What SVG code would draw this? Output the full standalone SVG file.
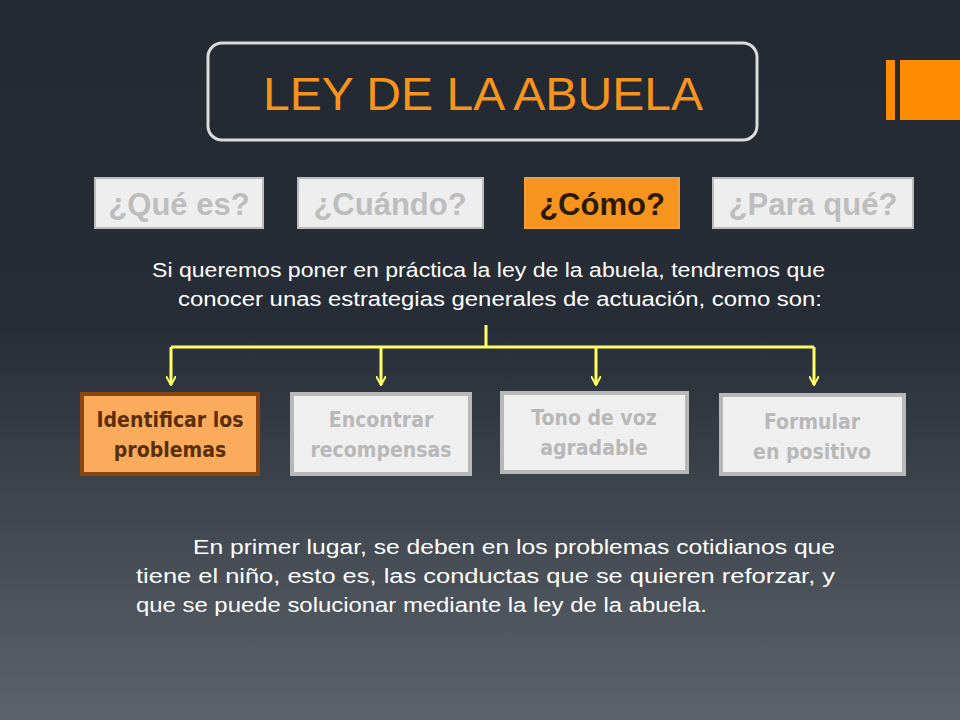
<svg xmlns="http://www.w3.org/2000/svg" width="960" height="720" viewBox="0 0 960 720">
<defs>
<linearGradient id="bg" x1="0" y1="0" x2="0" y2="1">
<stop offset="0" stop-color="#232a33"/><stop offset="0.45" stop-color="#262d36"/><stop offset="1" stop-color="#5c636b"/>
</linearGradient>
<marker id="ah" viewBox="0 0 10 10" refX="9" refY="5" markerWidth="10" markerHeight="10" markerUnits="userSpaceOnUse" orient="auto">
<path d="M0,0 L9,5 L0,10" fill="none" stroke="#ffff66" stroke-width="2"/>
</marker>
<style>
.tab{fill:#eeeeee;stroke:#bcbcbc;stroke-width:2}
.tabt{font-family:"Liberation Sans",Arial,sans-serif;font-size:31px;font-weight:bold;fill:#bdbdbd;text-anchor:middle}
.box{fill:#efefef;stroke:#b8b8b8;stroke-width:4}
.boxt{font-family:"DejaVu Sans Condensed","Liberation Sans",sans-serif;font-weight:bold;font-size:21px;fill:#b8b8b8;text-anchor:middle}
.body{font-family:"Liberation Sans",Arial,sans-serif;font-size:20px;fill:#ffffff}
.con{fill:none;stroke:#ffff66;stroke-width:3}
</style>
</defs>
<rect width="960" height="720" fill="url(#bg)"/>
<g id="title">
<rect x="208" y="43" width="549" height="97" rx="14" fill="#232a33" stroke="#dcdcdc" stroke-width="3"/>
<text x="263" y="110" textLength="440" lengthAdjust="spacingAndGlyphs" font-family="Liberation Sans,Arial,sans-serif" font-size="47" fill="#f7941d">LEY DE LA ABUELA</text>
</g>
<g id="deco"><rect x="886" y="60" width="9" height="60" fill="#ff8c00"/><rect x="900" y="60" width="60" height="60" fill="#ff8c00"/></g>
<g id="tab1"><rect class="tab" x="95" y="178" width="168" height="50"/><text class="tabt" x="179" y="215">¿Qué es?</text></g>
<g id="tab2"><rect class="tab" x="298" y="178" width="185" height="50"/><text class="tabt" x="390" y="215">¿Cuándo?</text></g>
<g id="tab3"><rect x="525" y="178" width="154" height="50" fill="#f7941d" stroke="#f0a040" stroke-width="2"/><text class="tabt" x="602" y="215" style="fill:#2a1a08">¿Cómo?</text></g>
<g id="tab4"><rect class="tab" x="713" y="178" width="200" height="50"/><text class="tabt" x="813" y="215">¿Para qué?</text></g>
<g id="intro">
<text class="body" x="152" y="277" textLength="673" lengthAdjust="spacingAndGlyphs">Si queremos poner en práctica la ley de la abuela, tendremos que</text>
<text class="body" x="178" y="306" textLength="644" lengthAdjust="spacingAndGlyphs">conocer unas estrategias generales de actuación, como son:</text>
</g>
<g id="connectors">
<path class="con" d="M486,325 V347"/>
<path class="con" d="M171,347 H814"/>
<path class="con" d="M171,347 V385" marker-end="url(#ah)"/>
<path class="con" d="M381,347 V385" marker-end="url(#ah)"/>
<path class="con" d="M596,347 V385" marker-end="url(#ah)"/>
<path class="con" d="M814,347 V385" marker-end="url(#ah)"/>
</g>
<g id="n1"><rect x="82" y="394" width="176" height="80" fill="#fbab5c" stroke="#8a4510" stroke-width="4"/><text class="boxt" x="170" y="427" style="fill:#5a2e08">Identificar los</text><text class="boxt" x="170" y="457" style="fill:#5a2e08">problemas</text></g>
<g id="n2"><rect class="box" x="292" y="394" width="178" height="80"/><text class="boxt" x="381" y="427">Encontrar</text><text class="boxt" x="381" y="457">recompensas</text></g>
<g id="n3"><rect class="box" x="502" y="393" width="185" height="79"/><text class="boxt" x="594" y="425">Tono de voz</text><text class="boxt" x="594" y="455">agradable</text></g>
<g id="n4"><rect class="box" x="721" y="395" width="183" height="79"/><text class="boxt" x="812" y="429">Formular</text><text class="boxt" x="812" y="459">en positivo</text></g>
<g id="para">
<text class="body" x="193" y="554" textLength="642" lengthAdjust="spacingAndGlyphs">En primer lugar, se deben en los problemas cotidianos que</text>
<text class="body" x="136" y="583" textLength="699" lengthAdjust="spacingAndGlyphs">tiene el niño, esto es, las conductas que se quieren reforzar, y</text>
<text class="body" x="136" y="612" textLength="571" lengthAdjust="spacingAndGlyphs">que se puede solucionar mediante la ley de la abuela.</text>
</g>
</svg>
